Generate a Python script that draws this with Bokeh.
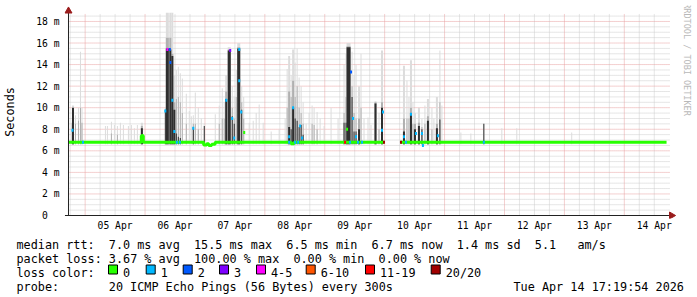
import re
import math
import numpy as np
from bokeh.plotting import figure
from bokeh.layouts import column
from bokeh.models import FixedTicker, Label
from bokeh.embed import file_html
from bokeh.resources import INLINE
from bokeh.core.properties import value

# ---------------- data (time = hours since 2026-04-04 00:00, values in ms) ----------------
T_START = 17.33          # 04 Apr 17:20
T_END = 256.93           # 14 Apr 17:00

day_label_hours = [36, 60, 84, 108, 132, 156, 180, 204, 228, 252]
day_labels = ["05 Apr", "06 Apr", "07 Apr", "08 Apr", "09 Apr",
              "10 Apr", "11 Apr", "12 Apr", "13 Apr", "14 Apr"]
midnight_hours = [24, 48, 72, 96, 120, 144, 168, 192, 216, 240]
six_hour_marks = [18, 30, 36, 42, 54, 60, 66, 78, 84, 90, 102, 108, 114, 126, 132, 138,
                  150, 156, 162, 174, 180, 186, 198, 204, 210, 222, 228, 234, 246, 252]

y_ticks = [0, 2, 4, 6, 8, 10, 12, 14, 16, 18]
y_tick_labels = ["0\u00a0\u00a0", "2 m", "4 m", "6 m", "8 m", "10 m", "12 m", "14 m", "16 m", "18 m"]
y_minor = [0.5, 1, 1.5, 2.5, 3, 3.5, 4.5, 5, 5.5, 6.5, 7, 7.5, 8.5, 9, 9.5, 10.5, 11, 11.5,
           12.5, 13, 13.5, 14.5, 15, 15.5, 16.5, 17, 17.5, 18.5]
Y_GRID_TOP = 18.74
X_GRID_END = 258.13

# smoke (ping distribution) per interval: centre time, duration, light top, mid top, dark top
smoke_h = [18.53, 19.13, 20.13, 21.33, 22.13, 22.73, 32.13, 32.93, 34.53, 35.73, 36.93, 38.13,
           39.33, 41.33, 42.53, 43.73, 44.93, 46.73,
           56.13, 56.93, 58.13, 58.93, 59.73, 60.53, 61.33, 62.13, 62.93, 64.53, 65.73, 66.53,
           67.33, 68.13, 69.33, 70.53, 71.73, 76.13, 77.73, 78.93, 79.73, 80.53, 81.73, 82.93,
           83.73, 84.53, 85.53, 86.73, 87.53, 89.73, 91.33, 92.53, 93.73,
           95.33, 98.53, 101.73, 104.13, 104.93, 105.73, 106.53, 107.33, 108.13, 108.93, 109.73,
           110.53, 111.33, 112.53, 113.73, 114.93, 115.73, 116.93, 118.13, 119.73, 122.53, 125.33,
           127.73, 128.53, 129.53, 130.93, 131.73, 132.53, 133.73, 134.53, 135.73, 137.33, 138.53,
           140.33, 141.73, 142.93,
           151.73, 152.93, 153.73, 154.53, 155.33, 156.13, 157.73, 158.93, 160.13, 161.33, 162.93,
           163.73, 164.93, 166.13, 166.93,
           174.53, 178.53, 183.73, 190.93, 196.93, 218.93]
smoke_w = [0.4, 0.8, 0.4, 0.4, 0.4, 0.4, 0.4, 0.4, 0.4, 0.4, 0.4, 0.4,
           0.4, 0.4, 0.4, 0.4, 0.4, 0.8,
           0.4, 1.2, 0.8, 0.8, 0.8, 0.4, 0.4, 0.4, 0.4, 0.4, 0.4, 0.4,
           0.4, 0.4, 0.4, 0.4, 0.4, 0.4, 0.4, 0.4, 0.4, 0.8, 1.2, 0.4,
           0.4, 0.4, 1.2, 0.4, 0.4, 0.4, 0.4, 0.4, 0.4,
           0.4, 0.4, 0.4, 0.4, 0.4, 0.8, 0.4, 0.8, 0.4, 0.4, 0.4,
           0.4, 0.4, 0.4, 0.4, 0.4, 0.4, 0.4, 0.4, 0.4, 0.4, 0.4,
           0.4, 0.4, 1.6, 0.4, 0.4, 0.4, 0.8, 0.4, 0.4, 0.4, 0.4,
           0.8, 0.4, 0.8,
           0.8, 0.4, 0.4, 0.8, 0.4, 0.8, 0.8, 0.4, 0.4, 0.8, 0.4,
           0.4, 0.8, 0.4, 0.4,
           0.4, 0.4, 0.4, 0.4, 0.4, 0.4]
smoke_light = [8.6, 10.2, 9.3, 10.0, 15.2, 10.0, 8.3, 8.3, 8.7, 8.4, 8.3, 8.6,
               8.4, 8.3, 8.4, 8.1, 8.4, 8.6,
               10.0, 18.8, 18.8, 18.8, 13.0, 13.5, 13.8, 13.2, 12.7, 11.3, 9.7, 9.2,
               9.3, 11.4, 10.0, 9.0, 8.5, 9.4, 10.2, 11.8, 10.5, 13.0, 15.6, 12.0,
               11.0, 13.5, 16.0, 12.0, 11.0, 8.6, 8.8, 9.5, 10.3,
               8.6, 7.8, 8.0, 9.0, 13.6, 14.8, 13.0, 15.4, 14.2, 15.5, 12.8,
               12.0, 10.5, 8.5, 9.5, 10.2, 10.0, 9.6, 9.0, 8.3, 10.0, 9.0,
               14.0, 15.0, 16.0, 15.2, 13.0, 14.0, 12.0, 15.0, 9.0, 9.1, 8.4,
               10.6, 9.5, 15.3,
               13.9, 12.5, 11.0, 14.4, 10.5, 9.5, 10.0, 9.0, 10.2, 10.8, 10.0,
               9.0, 11.0, 15.3, 10.2,
               7.7, 7.6, 8.5, 8.1, 8.1, 7.7]
smoke_mid = [0, 9.6, 8.5, 8.8, 10.0, 8.6, 0, 0, 7.6, 0, 7.5, 0,
             0, 0, 0, 0, 0, 8.3,
             0, 16.5, 16.5, 15.0, 10.5, 10.8, 11.0, 10.5, 9.5, 8.5, 0, 0,
             8.5, 8.5, 8.0, 0, 0, 0, 8.5, 9.0, 9.0, 11.5, 15.4, 10.0,
             9.0, 11.0, 15.6, 10.5, 9.0, 0, 0, 0, 0,
             0, 0, 0, 0, 10.0, 11.5, 11.0, 12.5, 11.0, 12.0, 10.0,
             9.5, 8.5, 0, 0, 8.5, 8.4, 8.0, 0, 0, 0, 0,
             9.5, 11.0, 15.7, 12.0, 9.5, 9.0, 9.0, 10.0, 0, 0, 0,
             10.5, 8.0, 10.5,
             9.0, 9.0, 9.0, 10.0, 8.5, 8.5, 8.6, 8.2, 8.5, 9.2, 8.0,
             0, 8.5, 10.5, 0,
             0, 0, 0, 0, 0, 0]
smoke_dark = [0, 10.0, 0, 0, 0, 0, 0, 0, 0, 0, 0, 0,
              0, 0, 0, 0, 0, 8.1,
              9.8, 15.5, 15.4, 14.8, 9.8, 7.6, 7.3, 7.2, 0, 0, 0, 0,
              8.2, 0, 0, 0, 8.3, 0, 0, 0, 0, 10.8, 15.3, 9.2,
              8.5, 0, 15.5, 9.8, 0, 0, 0, 0, 0,
              0, 0, 0, 0, 0, 8.2, 8.0, 10.0, 9.0, 8.8, 8.2,
              8.4, 7.5, 0, 0, 0, 0, 0, 0, 0, 0, 0,
              8.6, 8.6, 15.6, 11.0, 7.8, 7.8, 8.0, 0, 0, 0, 0,
              10.4, 0, 10.0,
              7.8, 0, 0, 9.5, 0, 8.0, 8.3, 8.0, 0, 8.8, 0,
              0, 8.1, 8.9, 0,
              0, 0, 8.5, 0, 0, 0]
smoke_floor = 6.6

# median rtt line (NaN = no data)
med_h = [17.33, 46.5, 46.5, 47.3, 47.3, 71.5, 71.5, 72.7, 72.7, 73.5, 73.5, 74.7, 74.7,
         76.1, 76.1, 106.5, 106.5, 107.7, 107.7, 143.9, np.nan, 150.3, 256.93]
med_v = [6.8, 6.8, 7.4, 7.4, 6.8, 6.8, 6.55, 6.55, 6.65, 6.65, 6.5, 6.5, 6.6,
         6.6, 6.8, 6.8, 6.65, 6.65, 6.8, 6.8, np.nan, 6.8, 6.8]

# median samples coloured by loss class
loss_h = [18.93, 23.13, 46.93, 56.13, 56.93, 57.93, 58.13, 58.93, 59.73, 60.73, 61.93, 67.33,
          80.53, 82.13, 82.93, 83.73, 85.73, 85.73, 86.53, 87.73, 105.73, 105.73, 107.33,
          108.13, 109.33, 110.13, 110.93, 128.13, 128.93, 130.13, 130.53, 131.33, 132.53,
          133.33, 134.93, 142.93, 143.33, 143.73, 150.53, 151.73, 152.53, 154.53, 156.53,
          158.93, 159.33, 165.33, 183.73]
loss_v = [7.9, 6.8, 7.4, 9.7, 15.4, 15.4, 14.2, 10.7, 7.8, 6.8, 6.8, 8.1,
          10.7, 15.3, 9.0, 7.2, 15.4, 12.5, 9.6, 7.7, 7.3, 6.8, 10.0,
          6.8, 6.8, 8.3, 7.2, 6.8, 8.0, 6.8, 13.3, 9.0, 7.3,
          6.8, 6.8, 7.9, 9.6, 6.8, 6.8, 7.3, 6.8, 9.4, 7.6,
          7.6, 6.5, 7.4, 6.8]
loss_cls = [1, 1, 0, 1, 4, 2, 2, 1, 1, 1, 1, 1,
            1, 3, 1, 1, 1, 1, 1, 0, 1, 1, 1,
            1, 1, 1, 1, 6, 0, 1, 2, 1, 1,
            1, 1, 1, 1, 7, 7, 1, 1, 1, 1,
            1, 1, 1, 1]

loss_names = ["0", "1", "2", "3", "4-5", "6-10", "11-19", "20/20"]
loss_colors = ["#26ff00", "#00b8ff", "#0059ff", "#7e00ff", "#ff00ff", "#ff5500", "#ff0000", "#a10000"]

legend_rows = [
    "median rtt:  7.0 ms avg  15.5 ms max  6.5 ms min  6.7 ms now  1.4 ms sd  5.1   am/s",
    "packet loss: 3.67 % avg  100.00 % max  0.00 % min  0.00 % now",
    "loss color:",
    "probe:       20 ICMP Echo Pings (56 Bytes) every 300s",
]
stamp = "Tue Apr 14 17:19:54 2026"
watermark = "RRDTOOL / TOBI OETIKER"

# ---------------- main figure ----------------
FONT = "DejaVu Sans Mono"
p = figure(width=697, height=236, x_range=(15.73, 269.33), y_range=(-0.278, 19.48),
           output_backend="svg", toolbar_location=None, title=None,
           min_border_left=63, min_border_right=0, min_border_top=5, min_border_bottom=18)
p.frame_align = False
p.background_fill_color = "white"
p.border_fill_color = "white"
p.outline_line_color = None
p.xgrid.grid_line_color = None
p.ygrid.grid_line_color = None

GRID_MINOR = "#cccccc"
GRID_MAJOR = "#e8a0a0"

def vgrid(xs, color):
    p.segment(x0=xs, y0=[0] * len(xs), x1=xs, y1=[Y_GRID_TOP] * len(xs),
              line_color=color, line_width=1, line_dash="1 1")

def hgrid(ys, color):
    p.segment(x0=[T_START] * len(ys), y0=ys, x1=[X_GRID_END] * len(ys), y1=ys,
              line_color=color, line_width=1, line_dash="1 1")

vgrid(six_hour_marks, GRID_MINOR)
hgrid(y_minor, GRID_MINOR)
vgrid(midnight_hours, GRID_MAJOR)
hgrid(y_ticks[1:], GRID_MAJOR)

# smoke layers
def layer(tops, color):
    idx = [i for i, t in enumerate(tops) if t > 0]
    p.quad(left=[smoke_h[i] - smoke_w[i] / 2 for i in idx],
           right=[smoke_h[i] + smoke_w[i] / 2 for i in idx],
           bottom=[smoke_floor] * len(idx), top=[tops[i] for i in idx],
           fill_color=color, line_color=None)

layer(smoke_light, "#dcdcdc")
layer(smoke_mid, "#b0b0b0")
layer(smoke_dark, "#2e2e2e")

# median line
p.line(np.array(med_h, dtype=float), np.array(med_v, dtype=float),
       line_color=loss_colors[0], line_width=3)
p.rect(x=loss_h, y=loss_v, width=0.8, height=3, height_units="screen",
       fill_color=[loss_colors[c] for c in loss_cls], line_color=None)

# axis lines and arrow heads
AXIS = "#222222"
ARROW = "#9a1c1c"
p.segment(x0=[T_START, 15.9], y0=[0, 0], x1=[T_START, 258.6], y1=[18.9, 0],
          line_color=AXIS, line_width=1)
p.scatter(x=[T_START, 258.93], y=[18.97, 0], marker="triangle", size=7,
          angle=[0, -math.pi / 2], fill_color=ARROW, line_color=ARROW)

# axes (labels only; lines drawn above)
xa = p.xaxis[0]
xa.ticker = FixedTicker(ticks=day_label_hours, minor_ticks=[])
xa.major_label_overrides = {h: s for h, s in zip(day_label_hours, day_labels)}
xa.major_tick_line_color = None
xa.major_tick_out = 0
xa.major_tick_in = 0
xa.minor_tick_line_color = None
xa.minor_tick_out = 0
xa.axis_line_color = None
xa.major_label_text_font = FONT
xa.major_label_text_font_size = "9.7px"
xa.major_label_text_color = "#000000"
xa.major_label_standoff = 1

ya = p.yaxis[0]
ya.ticker = FixedTicker(ticks=y_ticks, minor_ticks=[])
ya.major_label_overrides = {v: s for v, s in zip(y_ticks, y_tick_labels)}
ya.major_tick_line_color = None
ya.major_tick_in = 0
ya.major_tick_out = 0
ya.minor_tick_line_color = None
ya.minor_tick_out = 0
ya.axis_line_color = None
ya.major_label_text_font = FONT
ya.major_label_text_font_size = "9.7px"
ya.major_label_text_color = "#000000"
ya.major_label_standoff = 5
ya.axis_label = "Seconds"
ya.axis_label_text_font = FONT
ya.axis_label_text_font_size = "11.8px"
ya.axis_label_text_font_style = "normal"
ya.axis_label_text_color = "#000000"
ya.axis_label_standoff = 16

p.add_layout(Label(x=265.13, y=14.47, text=watermark, text_font=FONT, text_font_size="8.5px",
                   text_color="#b8b8b8", angle=-math.pi / 2, text_align="center",
                   text_baseline="middle"))

# ---------------- legend strip (page pixel coordinates) ----------------
q = figure(width=697, height=61, x_range=(0, 697), y_range=(297, 236),
           output_backend="svg", toolbar_location=None, title=None,
           x_axis_location=None, y_axis_location=None,
           min_border_left=0, min_border_right=0, min_border_top=0, min_border_bottom=0)
q.frame_align = False
q.background_fill_color = "white"
q.border_fill_color = "white"
q.outline_line_color = None
q.grid.visible = False

CW = 7.1
X0 = 16
baselines = [244.3, 258.3, 272.3, 286.3]
tx, ty, tt = [], [], []
for row, base in zip(legend_rows, baselines):
    for m in re.finditer(r"\S+(?: \S+)*", row):
        tx.append(X0 + m.start() * CW)
        ty.append(base)
        tt.append(m.group(0))
tx.append(X0 + 70 * CW)
ty.append(baselines[3])
tt.append(stamp)

box_left = [108, 145.7, 182.7, 219, 256, 305.7, 365, 430.7]
for name, bx in zip(loss_names, box_left):
    tx.append(bx + 14.5)
    ty.append(baselines[2])
    tt.append(name)

q.text(x=tx, y=ty, text=tt, text_font=value(FONT), text_font_size="11.8px",
       text_color="#000000", text_baseline="alphabetic", text_align="left")
q.quad(left=box_left, right=[b + 9 for b in box_left], top=[264.5] * 8, bottom=[273.5] * 8,
       fill_color=loss_colors, line_color="#000000", line_width=1)

layout = column(p, q, spacing=0)
open("out.html", "w").write(file_html(layout, INLINE))
